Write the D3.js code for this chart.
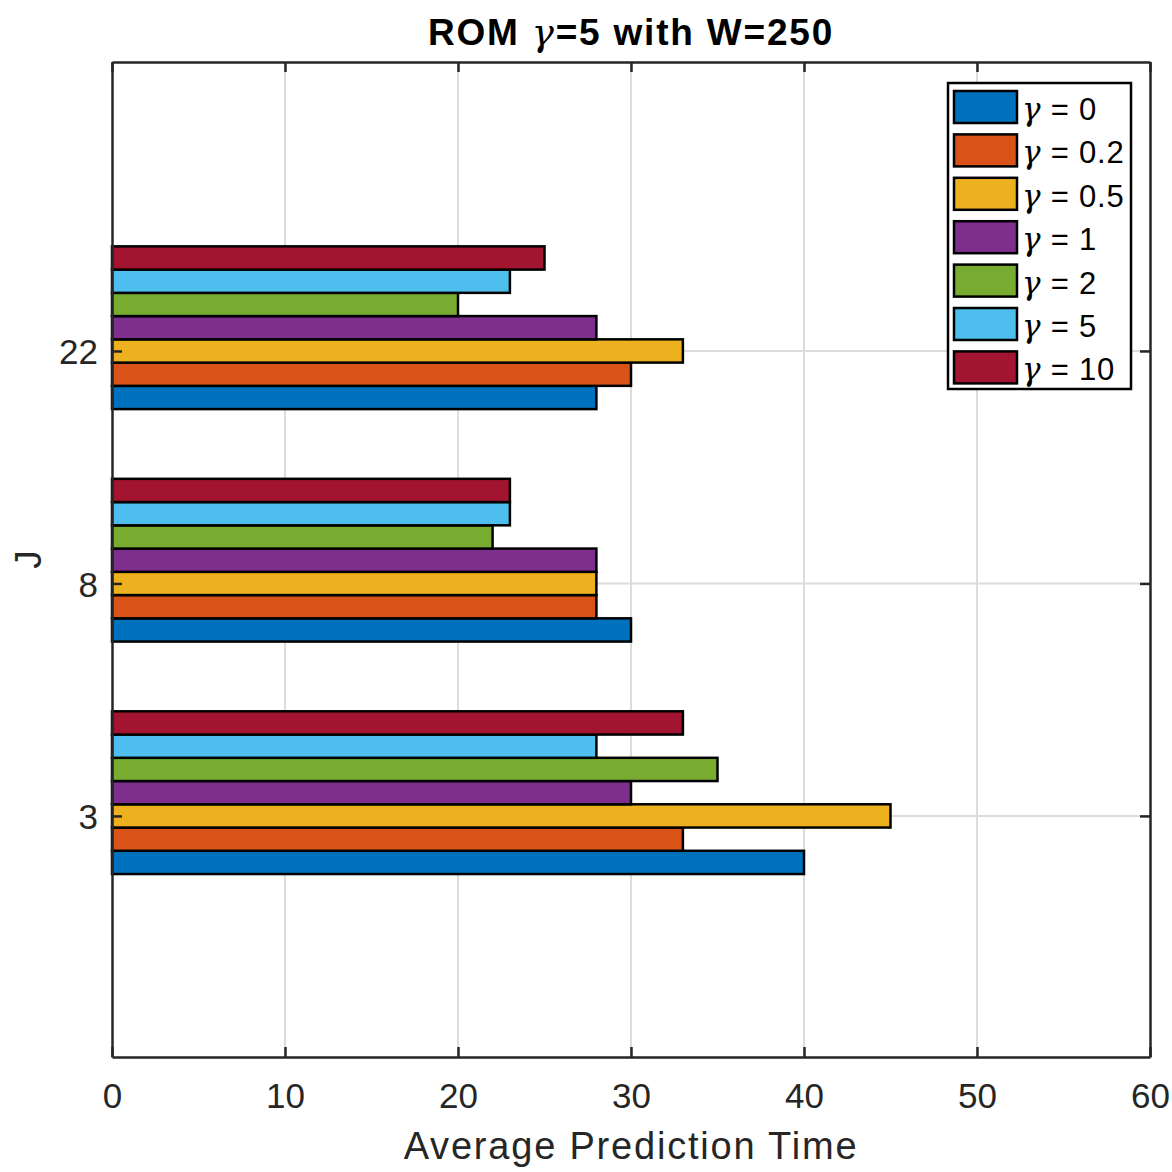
<!DOCTYPE html>
<html>
<head>
<meta charset="utf-8">
<script src="https://cdn.jsdelivr.net/npm/d3@7"></script>
<style>
  body { margin: 0; background: #fff; }
  svg { font-family: "Liberation Sans", Arial, sans-serif; }
</style>
</head>
<body>
<svg id="chart" width="1172" height="1172"></svg>
<script>
// categories on the J axis (bottom to top)
const categories = ['3', '8', '22'];
// gamma values for the series
const gammas = ['0', '0.2', '0.5', '1', '2', '5', '10'];
// average prediction time, one array per gamma, in category order
const g0 = [40, 30, 28];
const g02 = [33, 28, 30];
const g05 = [45, 28, 33];
const g1 = [30, 28, 28];
const g2 = [35, 22, 20];
const g5 = [28, 23, 23];
const g10 = [33, 23, 25];
const seriesValues = [g0, g02, g05, g1, g2, g5, g10];
const xTicks = [0, 10, 20, 30, 40, 50, 60];
const colors = ['#0072BD', '#D95319', '#EDB120', '#7E2F8E', '#77AC30', '#4DBEEE', '#A2142F'];

const svg = d3.select('#chart');
const pL = 112, pR = 1150, pT = 62, pB = 1057;
const axisColor = '#262626';

const x = d3.scaleLinear().domain([0, 60]).range([pL, pR]);
// categories are placed at 1, 2, 3
const y = d3.scaleLinear().domain([-0.037, 4.243]).range([pB, pT]);
// 9 slots per group, the series take slots 2..8
const slot = d3.scaleBand().domain(d3.range(9)).range([-0.45, 0.45]);

// grid
const grid = svg.append('g');
grid.selectAll('line.vx').data(xTicks.slice(1, -1)).enter().append('line')
  .attr('x1', d => x(d)).attr('x2', d => x(d))
  .attr('y1', pT).attr('y2', pB)
  .attr('stroke', '#dcdcdc').attr('stroke-width', 2);
grid.selectAll('line.hy').data(categories).enter().append('line')
  .attr('x1', pL).attr('x2', pR)
  .attr('y1', (d, i) => y(i + 1)).attr('y2', (d, i) => y(i + 1))
  .attr('stroke', '#dcdcdc').attr('stroke-width', 2);

// bars
const rows = [];
seriesValues.forEach((vals, s) => {
  vals.forEach((v, c) => rows.push({ s, c, v }));
});
svg.append('g').selectAll('rect').data(rows).enter().append('rect')
  .attr('x', x(0))
  .attr('width', d => x(d.v) - x(0))
  .attr('y', d => y(d.c + 1 + slot(d.s + 2) + slot.bandwidth()))
  .attr('height', d => y(d.c + 1 + slot(d.s + 2)) - y(d.c + 1 + slot(d.s + 2) + slot.bandwidth()))
  .attr('fill', d => colors[d.s])
  .attr('stroke', '#000').attr('stroke-width', 2.5);

// axes
const xAxis = svg.append('g').attr('transform', `translate(0,${pB})`)
  .call(d3.axisBottom(x).tickValues(xTicks).tickSizeInner(-10).tickSizeOuter(0).tickPadding(26));
const xAxisTop = svg.append('g').attr('transform', `translate(0,${pT})`)
  .call(d3.axisTop(x).tickValues(xTicks).tickSizeInner(-10).tickSizeOuter(0).tickFormat(''));
const yAxis = svg.append('g').attr('transform', `translate(${pL},0)`)
  .call(d3.axisLeft(y).tickValues([1, 2, 3]).tickFormat(d => categories[d - 1]).tickSizeInner(-10).tickSizeOuter(0).tickPadding(14));
const yAxisRight = svg.append('g').attr('transform', `translate(${pR},0)`)
  .call(d3.axisRight(y).tickValues([1, 2, 3]).tickSizeInner(-10).tickSizeOuter(0).tickFormat(''));

[xAxis, xAxisTop, yAxis, yAxisRight].forEach(a => {
  a.select('.domain').attr('stroke', axisColor).attr('stroke-width', 2.5);
  a.selectAll('.tick line').attr('stroke', axisColor).attr('stroke-width', 2.5);
  a.selectAll('.tick text').attr('fill', axisColor).style('font-size', '35px')
    .style('font-family', '"Liberation Sans", Arial, sans-serif');
});
xAxis.selectAll('.tick text').attr('dy', '0.71em');
yAxis.selectAll('.tick text').attr('dy', '0.36em');

// title
const title = svg.append('text').attr('x', (pL + pR) / 2).attr('y', 45)
  .attr('text-anchor', 'middle').style('font-size', '37px').style('font-weight', 'bold')
  .style('letter-spacing', '1.8px').attr('fill', '#000');
title.append('tspan').text('ROM ');
title.append('tspan').text('γ').style('font-family', '"DejaVu Serif", serif').style('font-style', 'italic').style('font-weight', 'normal');
title.append('tspan').text('=5 with W=250');

// axis labels
svg.append('text').attr('x', (pL + pR) / 2).attr('y', 1159)
  .attr('text-anchor', 'middle').style('font-size', '38px').style('letter-spacing', '1.8px')
  .attr('fill', axisColor)
  .text('Average Prediction Time');
svg.append('text').attr('transform', `translate(41,${(pT + pB) / 2}) rotate(-90)`)
  .attr('text-anchor', 'middle').style('font-size', '37px').attr('fill', axisColor)
  .text('J');

// legend
const lg = svg.append('g');
lg.append('rect').attr('x', 948).attr('y', 83).attr('width', 183).attr('height', 306)
  .attr('fill', '#fff').attr('stroke', '#000').attr('stroke-width', 2.5);
const item = lg.selectAll('g.item').data(gammas).enter().append('g')
  .attr('transform', (d, i) => `translate(954,${91 + i * 43.4})`);
item.append('rect').attr('width', 63).attr('height', 32)
  .attr('fill', (d, i) => colors[i]).attr('stroke', '#000').attr('stroke-width', 2.5);
const lt = item.append('text').attr('x', 68).attr('y', 29).style('font-size', '31px')
  .style('letter-spacing', '0.8px').attr('fill', '#000');
lt.append('tspan').text('γ').style('font-family', '"DejaVu Serif", serif').style('font-style', 'italic');
lt.append('tspan').text(d => ' = ' + d);
</script>
</body>
</html>
